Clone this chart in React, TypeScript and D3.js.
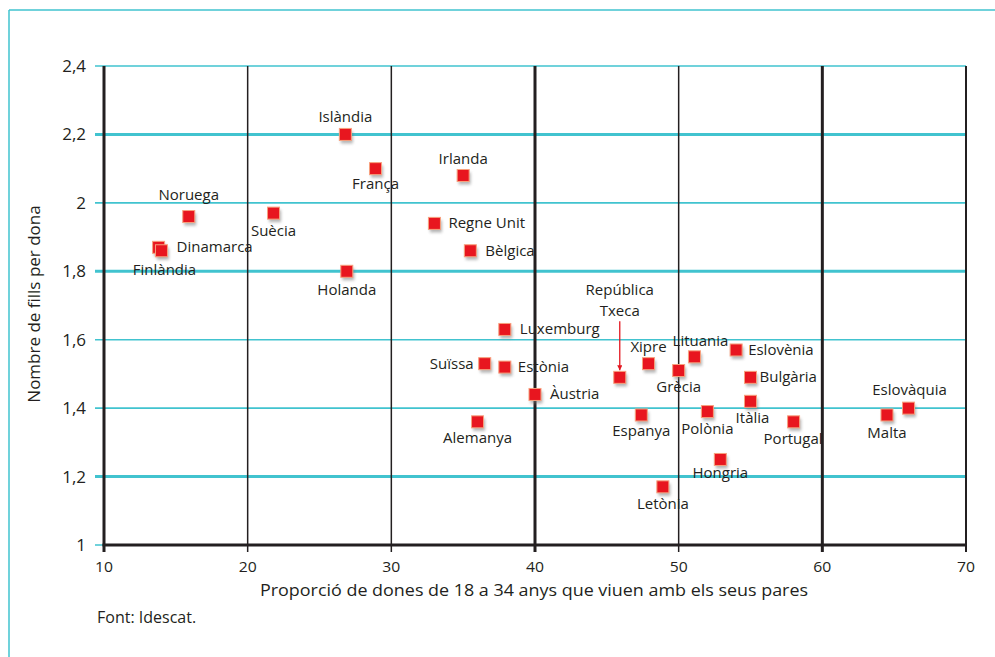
import { useRef, useEffect } from "react"
import * as d3 from "d3"

const countries = [
  "Islàndia", "França", "Irlanda", "Noruega", "Suècia", "Regne Unit", "Bèlgica",
  "Dinamarca", "Finlàndia", "Holanda", "Luxemburg", "Suïssa", "Estònia", "Àustria",
  "Alemanya", "República Txeca", "Xipre", "Grècia", "Lituania", "Eslovènia", "Bulgària",
  "Itàlia", "Espanya", "Polònia", "Portugal", "Hongria", "Letònia", "Malta", "Eslovàquia",
]
const shareLivingWithParents = [
  26.8, 28.9, 35.0, 15.9, 21.8, 33.0, 35.5,
  13.8, 14.0, 26.9, 37.9, 36.5, 37.9, 40.0,
  36.0, 45.9, 47.9, 50.0, 51.1, 54.0, 55.0,
  55.0, 47.4, 52.0, 58.0, 52.9, 48.9, 64.5, 66.0,
]
const childrenPerWoman = [
  2.2, 2.1, 2.08, 1.96, 1.97, 1.94, 1.86,
  1.87, 1.86, 1.8, 1.63, 1.53, 1.52, 1.44,
  1.36, 1.49, 1.53, 1.51, 1.55, 1.57, 1.49,
  1.42, 1.38, 1.39, 1.36, 1.25, 1.17, 1.38, 1.4,
]
const xTicks = [10, 20, 30, 40, 50, 60, 70]
const yTicks = [1, 1.2, 1.4, 1.6, 1.8, 2, 2.2, 2.4]

// label placement relative to each marker: [dx, dy, anchor]
const labelPlacement: [number, number, string][] = [
  [0, -12, "middle"], [0, 20, "middle"], [0, -11, "middle"], [0, -17, "middle"],
  [0, 23, "middle"], [14, 5, "start"], [15, 5, "start"], [18, 5, "start"],
  [3, 24, "middle"], [0, 24, "middle"], [15, 5, "start"], [-11, 5, "end"],
  [13, 5, "start"], [15, 5, "start"], [0, 21, "middle"], [0, -82, "middle"],
  [0, -12, "middle"], [0, 21, "middle"], [6, -11, "middle"], [12, 5, "start"],
  [9, 5, "start"], [2, 22, "middle"], [0, 21, "middle"], [0, 22, "middle"],
  [-30, 22, "start"], [0, 19, "middle"], [0, 22, "middle"], [0, 23, "middle"],
  [1, -13, "middle"],
]

export default function FertilityChart() {
  const svgRef = useRef<SVGSVGElement>(null)

  function drawChart() {
    const width = 995
    const height = 657
    const fontFamily = "'Open Sans', 'Noto Sans', sans-serif"
    const cyan = "#41c3cf"
    const ink = "#231f20"

    d3.select("body").style("margin", "0")
    const svg = d3.select(svgRef.current).attr("width", width).attr("height", height)
    svg.selectAll("*").remove()

    const x = d3.scaleLinear().domain([10, 70]).range([104, 966])
    const y = d3.scaleLinear().domain([1, 2.4]).range([545, 66])

    const defs = svg.append("defs")
    defs
      .append("filter")
      .attr("id", "shadow")
      .attr("x", "-50%")
      .attr("y", "-50%")
      .attr("width", "200%")
      .attr("height", "200%")
      .append("feGaussianBlur")
      .attr("stdDeviation", 1.6)
    const marker = defs
      .append("marker")
      .attr("id", "arrow")
      .attr("viewBox", "0 0 10 10")
      .attr("refX", 10)
      .attr("refY", 5)
      .attr("markerWidth", 4)
      .attr("markerHeight", 4)
      .attr("orient", "auto")
    marker.append("path").attr("d", "M0,0L10,5L0,10z").attr("fill", "#e3161f")

    // Frame
    svg.append("line").attr("x1", 9).attr("x2", width).attr("y1", 10).attr("y2", 10)
      .attr("stroke", cyan).attr("stroke-width", 1.5)
    svg.append("line").attr("x1", 9).attr("x2", 9).attr("y1", 10).attr("y2", height)
      .attr("stroke", cyan).attr("stroke-width", 1.5)

    // Horizontal grid
    const thickRows = [1.2, 1.8, 2.2]
    svg
      .append("g")
      .selectAll("line")
      .data(yTicks)
      .enter()
      .append("line")
      .attr("x1", 95)
      .attr("x2", x(70))
      .attr("y1", (d) => y(d))
      .attr("y2", (d) => y(d))
      .attr("stroke", cyan)
      .attr("stroke-width", (d) => (thickRows.includes(d) ? 3 : 1.6))

    // Vertical grid
    const thickCols = [10, 40, 60]
    svg
      .append("g")
      .selectAll("line")
      .data(xTicks)
      .enter()
      .append("line")
      .attr("x1", (d) => x(d))
      .attr("x2", (d) => x(d))
      .attr("y1", y(2.4))
      .attr("y2", y(1) + 7)
      .attr("stroke", ink)
      .attr("stroke-width", (d) => (thickCols.includes(d) ? 3 : d === 70 ? 2 : 1.5))

    // Bottom axis line
    svg.append("line").attr("x1", x(10) - 1.5).attr("x2", x(70) + 1).attr("y1", y(1)).attr("y2", y(1))
      .attr("stroke", ink).attr("stroke-width", 3)

    // Tick labels
    svg
      .append("g")
      .selectAll("text")
      .data(yTicks)
      .enter()
      .append("text")
      .text((d) => String(d).replace(".", ","))
      .attr("x", 86)
      .attr("y", (d) => y(d) + 6)
      .attr("text-anchor", "end")
      .style("font-size", "17px")
      .style("font-family", fontFamily)
      .attr("fill", ink)

    svg
      .append("g")
      .selectAll("text")
      .data(xTicks)
      .enter()
      .append("text")
      .text((d) => d)
      .attr("x", (d) => x(d))
      .attr("y", 572)
      .attr("text-anchor", "middle")
      .style("font-size", "14px")
      .style("font-family", fontFamily)
      .attr("fill", ink)
      .attr("textLength", 18)
      .attr("lengthAdjust", "spacingAndGlyphs")

    // Axis titles
    svg.append("text")
      .text("Proporció de dones de 18 a 34 anys que viuen amb els seus pares")
      .attr("x", 534).attr("y", 596).attr("text-anchor", "middle")
      .attr("textLength", 548).attr("lengthAdjust", "spacingAndGlyphs")
      .style("font-size", "17px").style("font-family", fontFamily).attr("fill", ink)

    svg.append("text")
      .text("Nombre de fills per dona")
      .attr("transform", "translate(40, 304) rotate(-90)")
      .attr("text-anchor", "middle")
      .style("font-size", "17px").style("font-family", fontFamily).attr("fill", ink)

    svg.append("text")
      .text("Font: Idescat.")
      .attr("x", 97).attr("y", 623)
      .style("font-size", "16px").style("font-family", fontFamily).attr("fill", ink)

    const idx = d3.range(countries.length)
    const size = 12

    // Markers
    const points = svg.append("g")
    points
      .selectAll("rect.shadow")
      .data(idx)
      .enter()
      .append("rect")
      .attr("class", "shadow")
      .attr("x", (i) => x(shareLivingWithParents[i]) - size / 2 + 1.5)
      .attr("y", (i) => y(childrenPerWoman[i]) - size / 2 + 3)
      .attr("width", size)
      .attr("height", size)
      .attr("fill", "#777")
      .attr("opacity", 0.55)
      .attr("filter", "url(#shadow)")
    points
      .selectAll("rect.mark")
      .data(idx)
      .enter()
      .append("rect")
      .attr("class", "mark")
      .attr("x", (i) => x(shareLivingWithParents[i]) - size / 2)
      .attr("y", (i) => y(childrenPerWoman[i]) - size / 2)
      .attr("width", size)
      .attr("height", size)
      .attr("fill", "#e8161f")
      .attr("stroke", "#f7a17e")
      .attr("stroke-width", 1)

    // Labels
    const labels = svg.append("g")
    idx.forEach((i) => {
      const [dx, dy, anchor] = labelPlacement[i]
      const px = x(shareLivingWithParents[i]) + dx
      const py = y(childrenPerWoman[i]) + dy
      const words = countries[i] === "República Txeca" ? ["República", "Txeca"] : [countries[i]]
      const t = labels
        .append("text")
        .attr("x", px)
        .attr("y", py)
        .attr("text-anchor", anchor)
        .style("font-size", "15px")
        .style("font-family", fontFamily)
        .attr("fill", ink)
      words.forEach((w, k) => {
        t.append("tspan").attr("x", px).attr("dy", k === 0 ? 0 : 21).text(w)
      })
      if (words.length > 1) {
        labels
          .append("line")
          .attr("x1", px)
          .attr("x2", px)
          .attr("y1", py + 26)
          .attr("y2", y(childrenPerWoman[i]) - size / 2 - 1)
          .attr("stroke", "#e3161f")
          .attr("stroke-width", 1.3)
          .attr("marker-end", "url(#arrow)")
      }
    })
  }

  useEffect(() => {
    drawChart()
  }, [svgRef])

  return (
    <div>
      <svg ref={svgRef} style={{ display: "block" }}></svg>
    </div>
  )
}
